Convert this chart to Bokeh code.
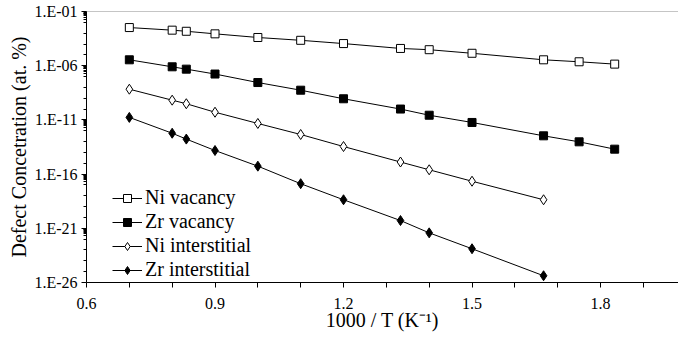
from bokeh.plotting import figure
from bokeh.models import (FixedTicker, CustomJSTickFormatter, Span, Legend,
                          LegendItem, Range1d)
from bokeh.embed import file_html
from bokeh.resources import INLINE

# ---- data ----
inv_T = [0.7, 0.8, 0.833, 0.9, 1.0, 1.1, 1.2, 1.333, 1.4, 1.5, 1.667, 1.75, 1.833]
ni_vacancy = [3.3e-3, 1.9e-3, 1.5e-3, 8.7e-4, 4.0e-4, 2.2e-4, 1.1e-4, 3.9e-5,
              3.0e-5, 1.4e-5, 3.5e-6, 2.3e-6, 1.4e-6]
zr_vacancy = [3.5e-6, 7.9e-7, 4.8e-7, 1.7e-7, 2.8e-8, 5.5e-9, 8.9e-10, 1.0e-10,
              2.7e-11, 5.8e-12, 3.4e-13, 9.5e-14, 2.0e-14]
inv_T_int = [0.7, 0.8, 0.833, 0.9, 1.0, 1.1, 1.2, 1.333, 1.4, 1.5, 1.667]
ni_interstitial = [6.8e-9, 6.6e-10, 3.1e-10, 5.1e-11, 4.7e-12, 4.5e-13, 3.5e-14,
                   1.3e-15, 2.5e-16, 2.2e-17, 4.3e-19]
zr_interstitial = [1.7e-11, 5.9e-13, 1.7e-13, 1.5e-14, 5.4e-16, 1.3e-17, 4.3e-19,
                   5.2e-21, 3.8e-22, 1.3e-23, 4.2e-26]

series_names = ["Ni vacancy", "Zr vacancy", "Ni interstitial", "Zr interstitial"]
x_ticks = [0.6, 0.9, 1.2, 1.5, 1.8]
x_minor = [0.7, 0.8, 1.0, 1.1, 1.3, 1.4, 1.6, 1.7, 1.9]
y_ticks = [1e-26, 1e-21, 1e-16, 1e-11, 1e-6, 1e-1]
x_title = "1000 / T (K\u207b\u00b9)"
y_title = "Defect Concetration (at. %)"

FONT = "Liberation Serif"

p = figure(width=678, height=342, y_axis_type="log",
           x_range=Range1d(0.6, 1.982), y_range=Range1d(1e-26, 1e-1),
           output_backend="svg", toolbar_location=None,
           min_border_left=86, min_border_right=0, min_border_top=11,
           min_border_bottom=60)
p.grid.visible = False
p.outline_line_color = None
p.background_fill_color = "white"
p.border_fill_color = "white"

# y minor ticks (Excel-like)
y_minor = []
for b in y_ticks[1:]:
    for k in range(1, 10):
        y_minor.append(b * k / 10.0)
    for e in (2, 3, 4):
        y_minor.append(b * 10.0 ** (-e))

# axes
xa = p.xaxis[0]
xa.ticker = FixedTicker(ticks=x_ticks, minor_ticks=x_minor)
xa.formatter = CustomJSTickFormatter(code="return tick.toFixed(1);")
xa.axis_line_color = "black"
xa.major_tick_line_color = "black"
xa.minor_tick_line_color = "black"
xa.major_tick_in = 0
xa.major_tick_out = 5
xa.minor_tick_in = 0
xa.minor_tick_out = 5
xa.major_label_text_font = FONT
xa.major_label_text_font_size = "16px"
xa.major_label_text_color = "black"
xa.major_label_standoff = 10
xa.axis_label = x_title
xa.axis_label_text_font = FONT
xa.axis_label_text_font_size = "20px"
xa.axis_label_text_font_style = "normal"
xa.axis_label_text_color = "black"
xa.axis_label_standoff = -3

ya = p.yaxis[0]
ya.ticker = FixedTicker(ticks=y_ticks, minor_ticks=y_minor)
ya.formatter = CustomJSTickFormatter(code="""
const e = Math.round(Math.log10(tick));
const s = Math.abs(e).toString().padStart(2, '0');
return '1.E' + (e < 0 ? '-' : '+') + s;
""")
ya.axis_line_color = "black"
ya.major_tick_line_color = "black"
ya.minor_tick_line_color = "black"
ya.major_tick_in = 0
ya.major_tick_out = 5
ya.minor_tick_in = 0
ya.minor_tick_out = 3
ya.major_label_text_font = FONT
ya.major_label_text_font_size = "16px"
ya.major_label_text_color = "black"
ya.major_label_standoff = 4
ya.axis_label = y_title
ya.axis_label_text_font = FONT
ya.axis_label_text_font_size = "20px"
ya.axis_label_text_font_style = "normal"
ya.axis_label_text_color = "black"
ya.axis_label_standoff = 1

# top gray line
p.add_layout(Span(location=1e-1, dimension="width", line_color="#8c8c8c", line_width=1))

# series
l1 = p.line(inv_T, ni_vacancy, line_color="black", line_width=1)
s1 = p.scatter(inv_T, ni_vacancy, marker="square", size=8, fill_color="white",
               line_color="black", line_width=1)
l2 = p.line(inv_T, zr_vacancy, line_color="black", line_width=1)
s2 = p.scatter(inv_T, zr_vacancy, marker="square", size=8, fill_color="black",
               line_color="black", line_width=1)
l3 = p.line(inv_T_int, ni_interstitial, line_color="black", line_width=1)
s3 = p.scatter(inv_T_int, ni_interstitial, marker="diamond", size=10, fill_color="white",
               line_color="black", line_width=1)
l4 = p.line(inv_T_int, zr_interstitial, line_color="black", line_width=1)
s4 = p.scatter(inv_T_int, zr_interstitial, marker="diamond", size=10, fill_color="black",
               line_color="black", line_width=1)

legend = Legend(items=[
    LegendItem(label=series_names[0], renderers=[l1, s1]),
    LegendItem(label=series_names[1], renderers=[l2, s2]),
    LegendItem(label=series_names[2], renderers=[l3, s3]),
    LegendItem(label=series_names[3], renderers=[l4, s4]),
], location=(26, 1), glyph_width=30, glyph_height=20, label_height=20,
    spacing=1, padding=0, margin=0, label_standoff=3,
    border_line_color=None, background_fill_alpha=0,
    label_text_font=FONT, label_text_font_size="20px", label_text_color="black")
p.add_layout(legend)

open("out.html", "w").write(file_html(p, INLINE))
